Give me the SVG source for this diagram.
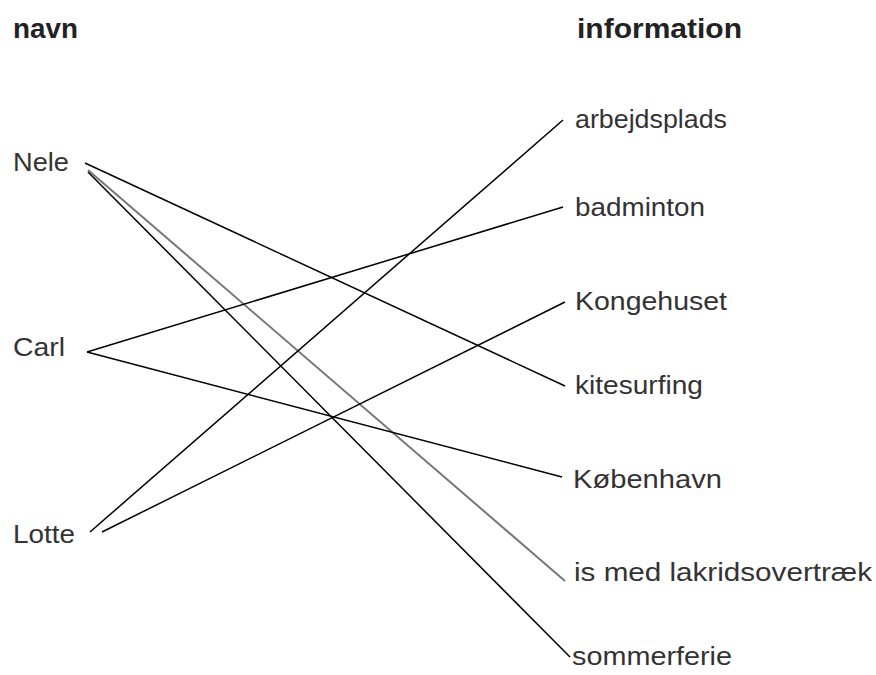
<svg xmlns="http://www.w3.org/2000/svg" width="876" height="675" viewBox="0 0 876 675">
<style>
text{font-family:"Liberation Sans",Arial,sans-serif;fill:#333;font-size:25px}
.h{font-weight:bold;font-size:27px;fill:#222}
.c line{stroke:#000;stroke-width:1.5;fill:none}
.c line.g{stroke:#777;stroke-width:2}
</style>
<rect width="876" height="675" fill="#fff"/>
<g id="header-navn"><text class="h" x="13" y="38" textLength="65" lengthAdjust="spacingAndGlyphs">navn</text></g>
<g id="header-information"><text class="h" x="577" y="38" textLength="165" lengthAdjust="spacingAndGlyphs">information</text></g>
<g id="nele"><text x="13" y="171" textLength="56" lengthAdjust="spacingAndGlyphs">Nele</text></g>
<g id="carl"><text x="13" y="356" textLength="52" lengthAdjust="spacingAndGlyphs">Carl</text></g>
<g id="lotte"><text x="13" y="543" textLength="62" lengthAdjust="spacingAndGlyphs">Lotte</text></g>
<g id="arbejdsplads"><text x="575" y="128" textLength="152" lengthAdjust="spacingAndGlyphs">arbejdsplads</text></g>
<g id="badminton"><text x="575" y="216" textLength="130" lengthAdjust="spacingAndGlyphs">badminton</text></g>
<g id="kongehuset"><text x="575" y="310" textLength="152" lengthAdjust="spacingAndGlyphs">Kongehuset</text></g>
<g id="kitesurfing"><text x="575" y="394" textLength="128" lengthAdjust="spacingAndGlyphs">kitesurfing</text></g>
<g id="koebenhavn"><text x="573" y="488" textLength="149" lengthAdjust="spacingAndGlyphs">København</text></g>
<g id="is-med-lakridsovertraek"><text x="574" y="581" textLength="298" lengthAdjust="spacingAndGlyphs">is med lakridsovertræk</text></g>
<g id="sommerferie"><text x="572" y="665" textLength="160" lengthAdjust="spacingAndGlyphs">sommerferie</text></g>
<g id="connectors" class="c">
<line x1="85" y1="163" x2="565" y2="386"/>
<line class="g" x1="88" y1="170" x2="565" y2="581"/>
<line x1="88" y1="172" x2="570" y2="657"/>
<line x1="87" y1="352" x2="563" y2="207"/>
<line x1="87" y1="352" x2="562" y2="477"/>
<line x1="90" y1="532" x2="563" y2="120"/>
<line x1="102" y1="532" x2="565" y2="302"/>
</g>
</svg>
